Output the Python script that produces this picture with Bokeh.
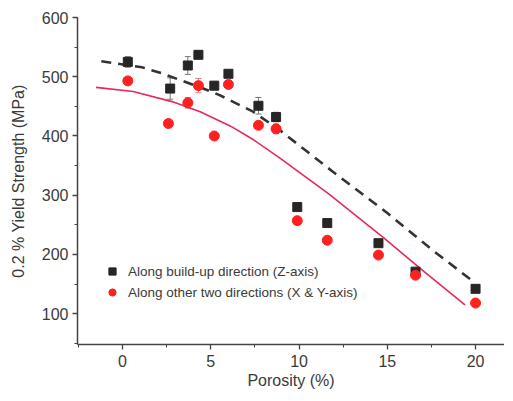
from bokeh.plotting import figure
from bokeh.models import (ColumnDataSource, Whisker, TeeHead, Legend, LegendItem,
                          SingleIntervalTicker, Range1d)
from bokeh.embed import file_html
from bokeh.resources import INLINE

# ---- data ----
x_z = [0.3, 2.7, 3.7, 4.3, 5.2, 6.0, 7.7, 8.7, 9.9, 11.6, 14.5, 16.6, 20.0]
y_z = [525, 480, 519, 537, 485, 505, 451, 432, 280, 253, 219, 171, 142]
err_z = [9, 18, 15, 6, 7, 5, 14, 8, 0, 4, 0, 0, 0]

x_xy = [0.3, 2.6, 3.7, 4.3, 5.2, 6.0, 7.7, 8.7, 9.9, 11.6, 14.5, 16.6, 20.0]
y_xy = [493, 421, 456, 485, 400, 487, 418, 412, 257, 224, 199, 165, 118]
err_xy = [0, 5, 9, 12, 0, 6, 0, 8, 0, 0, 0, 0, 0]

fit_z_x = [-1.2, 1.1, 2.2, 3.4, 4.5, 5.5, 7.4, 8.9, 11.9, 15.0, 17.7, 19.8]
fit_z_y = [526, 516, 506, 493, 481, 469, 441, 410, 340, 270, 204, 156]

fit_xy_x = [-1.5, 0.6, 2.8, 4.4, 6.1, 7.4, 8.9, 11.7, 14.8, 17.0, 19.4]
fit_xy_y = [482, 475, 458, 441, 417, 394, 363, 302, 228, 173, 115]

label_z = "Along build-up direction (Z-axis)"
label_xy = "Along other two directions (X & Y-axis)"
x_title = "Porosity (%)"
y_title = "0.2 % Yield Strength (MPa)"

FONT = "Liberation Sans"
TXT = "#3a3a3a"

p = figure(width=504, height=392, output_backend="svg", toolbar_location=None,
           x_range=Range1d(-2.55, 21.64), y_range=Range1d(48, 600),
           min_border_left=77, min_border_top=17, min_border_bottom=48,
           min_border_right=0)
p.outline_line_color = None
p.grid.visible = False
p.background_fill_color = "white"
p.border_fill_color = "white"

# fitted curves
p.line(fit_z_x, fit_z_y, line_color="#333333", line_width=2.6, line_dash="10 7")
p.line(fit_xy_x, fit_xy_y, line_color="#e8285a", line_width=1.6)

# error bars
src_z = ColumnDataSource(dict(x=x_z, y=y_z,
                              lo=[a - b for a, b in zip(y_z, err_z)],
                              hi=[a + b for a, b in zip(y_z, err_z)]))
src_xy = ColumnDataSource(dict(x=x_xy, y=y_xy,
                               lo=[a - b for a, b in zip(y_xy, err_xy)],
                               hi=[a + b for a, b in zip(y_xy, err_xy)]))
for src, col in ((src_z, "#777777"), (src_xy, "#cc8888")):
    w = Whisker(source=src, base="x", lower="lo", upper="hi",
                line_color=col, line_width=1,
                upper_head=TeeHead(size=6, line_color=col, line_width=1),
                lower_head=TeeHead(size=6, line_color=col, line_width=1))
    p.add_layout(w)

r_z = p.scatter("x", "y", source=src_z, marker="square", size=9,
                fill_color="#262626", line_color="#262626")
r_xy = p.scatter("x", "y", source=src_xy, marker="circle", size=10,
                 fill_color="#ff2020", line_color="#ff2020")

legend = Legend(items=[LegendItem(label=label_z, renderers=[r_z]),
                       LegendItem(label=label_xy, renderers=[r_xy])],
                location=(26, 43), padding=0, margin=0, spacing=3,
                glyph_width=18, glyph_height=18, label_height=18,
                label_standoff=7, label_text_font=FONT,
                label_text_font_size="13.5px", label_text_color=TXT,
                border_line_alpha=0, background_fill_alpha=0)
p.add_layout(legend)

# axes
p.xaxis.ticker = SingleIntervalTicker(interval=5, num_minor_ticks=2)
p.yaxis.ticker = SingleIntervalTicker(interval=100, num_minor_ticks=2)
for ax in (p.xaxis[0], p.yaxis[0]):
    ax.axis_line_color = "#444444"
    ax.axis_line_width = 1.5
    ax.major_tick_line_color = "#444444"
    ax.minor_tick_line_color = "#444444"
    ax.major_tick_line_width = 1.3
    ax.major_tick_in = 0
    ax.minor_tick_in = 0
    ax.major_tick_out = 5
    ax.minor_tick_out = 3
    ax.major_label_text_font = FONT
    ax.major_label_text_font_size = "16px"
    ax.major_label_text_color = TXT
    ax.axis_label_text_font = FONT
    ax.axis_label_text_font_size = "16px"
    ax.axis_label_text_font_style = "normal"
    ax.axis_label_text_color = TXT

p.xaxis.axis_label = x_title
p.yaxis.axis_label = y_title
p.xaxis.major_label_standoff = 5
p.xaxis.axis_label_standoff = 2
p.yaxis.major_label_standoff = 4
p.yaxis.axis_label_standoff = 12

open("out.html", "w").write(file_html(p, INLINE))
